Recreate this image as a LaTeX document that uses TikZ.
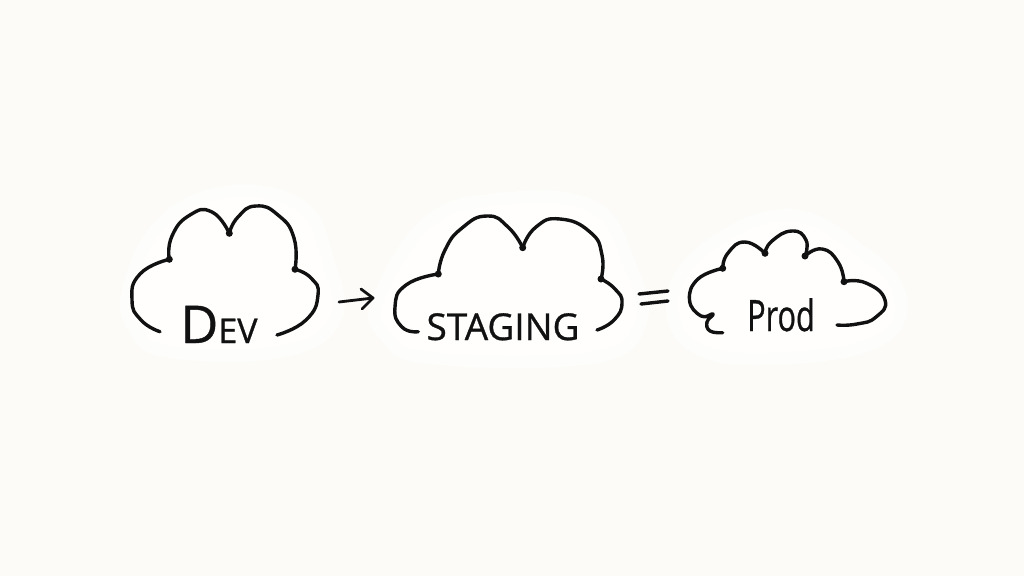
\documentclass[tikz,border=0pt]{standalone}
\usepackage{fontspec}
\setmainfont[FakeBold=0.8]{Open Sans}
\definecolor{paper}{HTML}{FCFBF8}
\definecolor{glow}{HTML}{FFFEFD}
\definecolor{glowedge}{HTML}{FDFDFB}
\definecolor{ink}{HTML}{111111}
\begin{document}
\begin{tikzpicture}[x=1pt, y=-1pt,
        ink line/.style = {draw=ink, line width=3.4pt, line cap=round, line join=round},
        cusp/.style = {circle, fill=ink, inner sep=0pt, minimum size=7pt},
        halo/.style = {fill=glow, draw=glowedge, line width=12pt, line join=round},
        label/.style = {text=ink, inner sep=0pt, anchor=base}]
    \fill[paper] (0,0) rectangle (1024,576);
    \useasboundingbox (0,0) rectangle (1024,576);
    % pale halos
    \path[halo] plot[smooth cycle, tension=0.7] coordinates {(128,290) (160,225) (225,192) (300,205) (328,260) (335,320) (280,352) (170,352) (135,330)};
    \path[halo] plot[smooth cycle, tension=0.7] coordinates {(378,300) (425,225) (490,200) (590,205) (630,265) (640,325) (590,358) (430,358) (385,335)};
    \path[halo] plot[smooth cycle, tension=0.7] coordinates {(672,300) (710,245) (790,215) (860,250) (900,295) (880,340) (790,358) (700,350)};
    % dev
    \node[cusp] (dev1) at (169.3,259.3) {};
    \node[cusp] (dev2) at (229.3,233.3) {};
    \node[cusp] (dev3) at (295,269.3) {};
    \draw[ink line] plot[smooth, tension=0.9] coordinates {(160,331.7) (141,320) (132,300) (140,274) (169.3,259.3)};
    \draw[ink line] plot[smooth, tension=0.9] coordinates {(169.3,259.3) (172,236) (190,215) (212,212) (229.3,233.3)};
    \draw[ink line] plot[smooth, tension=0.9] coordinates {(229.3,233.3) (238,217) (256,206) (278,215) (294,238) (295,269.3)};
    \draw[ink line] plot[smooth, tension=0.9] coordinates {(295,269.3) (311,278) (318,295) (306,320) (277,335)};
    \node[label] (dev) at (219,343) {{\fontsize{52}{52}\selectfont D}{\fontsize{34}{34}\selectfont EV}};
    % staging
    \node[cusp] (stg1) at (438.3,274) {};
    \node[cusp] (stg2) at (522.7,247.7) {};
    \node[cusp] (stg3) at (601,279) {};
    \draw[ink line] plot[smooth, tension=0.9] coordinates {(418.3,331.7) (402,327) (395,307) (406,285) (438.3,274)};
    \draw[ink line] plot[smooth, tension=0.9] coordinates {(438.3,274) (445,250) (462,228) (487,216) (508,227) (522.7,247.7)};
    \draw[ink line] plot[smooth, tension=0.9] coordinates {(522.7,247.7) (536,227) (560,219) (590,232) (602,255) (601,279)};
    \draw[ink line] plot[smooth, tension=0.9] coordinates {(601,279) (615,289) (622,303) (614,320) (597,330)};
    \node[label] (stg) at (503,340) {\fontsize{37}{37}\selectfont STAGING};
    % prod
    \node[cusp] (prd1) at (722.7,268.3) {};
    \node[cusp] (prd2) at (765,253.3) {};
    \node[cusp] (prd3) at (805,256) {};
    \node[cusp] (prd4) at (844,281.7) {};
    \draw[ink line] plot[smooth, tension=0.8] coordinates {(722.7,332.7) (710,331) (707,322) (713,314) (701,316) (689.5,300) (698,279) (722.7,268.3)};
    \draw[ink line] plot[smooth, tension=0.9] coordinates {(722.7,268.3) (728,253) (745,242) (765,253.3)};
    \draw[ink line] plot[smooth, tension=0.9] coordinates {(765,253.3) (772,241) (792,231) (806,240) (805,256)};
    \draw[ink line] plot[smooth, tension=0.9] coordinates {(805,256) (822,249) (838,262) (844,281.7)};
    \draw[ink line] plot[smooth, tension=0.9] coordinates {(844,281.7) (866,283) (885,300) (876,317) (857,324) (837,325)};
    \node[label, xscale=0.85, yscale=1.2, transform shape] (prd) at (781,331) {\fontsize{36}{36}\selectfont Prod};
    % arrow and equals
    \coordinate (arrowa) at (339,302);
    \coordinate (arrowb) at (373,298);
    \coordinate (arrowu) at (361,289);
    \coordinate (arrowd) at (362,309);
    \draw[ink line, line width=2.8pt] (arrowa) -- (arrowb);
    \draw[ink line, line width=2.8pt] (arrowu) -- (arrowb) -- (arrowd);
    \coordinate (eqa) at (639,294);
    \coordinate (eqb) at (668,291);
    \coordinate (eqc) at (641,304);
    \coordinate (eqd) at (668,301);
    \draw[ink line] (eqa) -- (eqb);
    \draw[ink line] (eqc) -- (eqd);
\end{tikzpicture}
\end{document}
